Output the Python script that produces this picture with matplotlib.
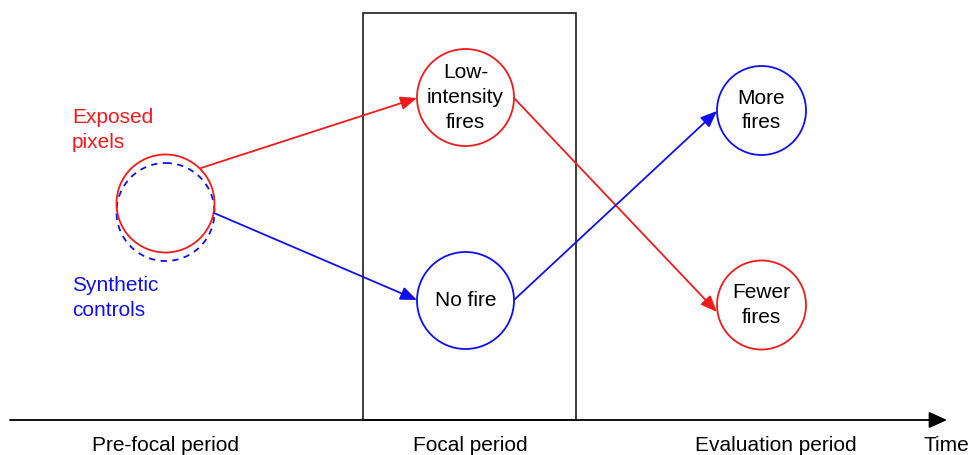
import matplotlib
matplotlib.use("Agg")
import matplotlib.pyplot as plt
from matplotlib.patches import Circle, Rectangle, FancyArrowPatch

plt.rcParams['font.family'] = ['Liberation Sans', 'DejaVu Sans']

RED = '#ee1c1c'
BLUE = '#1010ee'

# Nodes (labels, colours)
node_labels = ["Low-\nintensity\nfires", "No fire", "More\nfires", "Fewer\nfires"]
node_colors = [RED, BLUE, BLUE, RED]
node_x = [465.5, 465.5, 761.5, 761.5]
node_y = [97.5, 300.5, 110.5, 305.0]
node_r = [48.5, 48.5, 44.5, 44.5]

# Start group
start_x = 165.5
start_y_exposed = 203.5
start_y_synth = 212.0
start_r = 49.0

# Arrows: (from point, to point, colour)
arrow_from = [(201, 168), (214, 213), (514, 98), (514, 300)]
arrow_to = [(417, 98), (417, 300), (717, 312), (717, 111)]
arrow_colors = [RED, BLUE, RED, BLUE]

period_labels = ["Pre-focal period", "Focal period", "Evaluation period", "Time"]
period_x = [165.5, 470, 776, 946]

fig = plt.figure(figsize=(9.69, 4.55), dpi=100)
ax = fig.add_axes([0, 0, 1, 1])
ax.set_xlim(0, 969)
ax.set_ylim(455, 0)
ax.axis('off')

# Focal period box
ax.add_patch(Rectangle((363.5, 13), 576 - 363.5, 420 - 13, fill=False,
                       edgecolor='#1a1a1a', lw=1.2, zorder=1))

# Time axis
ax.add_patch(FancyArrowPatch((10, 420), (947, 420),
                             arrowstyle='-|>,head_length=1.1,head_width=0.5',
                             mutation_scale=10, color='black', lw=1.3,
                             shrinkA=0, shrinkB=0, zorder=2))

# Start circles
ax.add_patch(Circle((start_x, start_y_synth), start_r, fill=False, edgecolor=BLUE,
                    lw=1.3, linestyle=(0, (3.5, 3.0)), zorder=3))
ax.add_patch(Circle((start_x, start_y_exposed), start_r, fill=False, edgecolor=RED,
                    lw=1.3, zorder=4))

ax.text(72, 130, "Exposed\npixels", color=RED, fontsize=15, ha='left', va='center',
        linespacing=1.35)
ax.text(72, 298, "Synthetic\ncontrols", color=BLUE, fontsize=15, ha='left', va='center',
        linespacing=1.4)

# Nodes
for lab, c, x, y, r in zip(node_labels, node_colors, node_x, node_y, node_r):
    ax.add_patch(Circle((x, y), r, fill=False, edgecolor=c, lw=1.3, zorder=3))
    ax.text(x, y, lab, color='black', fontsize=15, ha='center', va='center',
            linespacing=1.4, zorder=5)

# Arrows
for a, b, c in zip(arrow_from, arrow_to, arrow_colors):
    ax.add_patch(FancyArrowPatch(a, b, arrowstyle='-|>,head_length=1.1,head_width=0.45',
                                 mutation_scale=9, color=c, lw=1.3,
                                 shrinkA=0, shrinkB=0, zorder=4))

# Period labels
for lab, x in zip(period_labels, period_x):
    ax.text(x, 451, lab, color='black', fontsize=15, ha='center', va='baseline')

fig.savefig("out.png", dpi=100)
